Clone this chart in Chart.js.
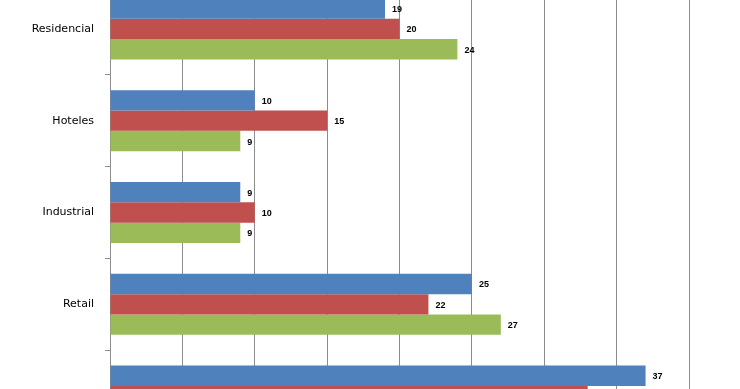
<!DOCTYPE html>
<html>
<head>
<meta charset="utf-8">
<script src="https://cdn.jsdelivr.net/npm/chart.js@4/dist/chart.umd.min.js"></script>
<style>
  html, body { margin: 0; padding: 0; background: #ffffff; overflow: hidden; width: 740px; height: 389px; }
  #wrap { position: absolute; left: 0; top: -17px; width: 740px; height: 459px; }
</style>
</head>
<body>
<div id="wrap"><canvas id="c" width="740" height="459"></canvas></div>
<script>
const categories = ['Residencial', 'Hoteles', 'Industrial', 'Retail', 'Oficinas'];
const seriesNames = ['Serie 1', 'Serie 2', 'Serie 3'];
const serie1 = [19, 10, 9, 25, 37];
const serie2 = [20, 15, 10, 22, 33];
const serie3 = [24, 9, 9, 27, null];
const xTicks = { min: 0, max: 40, step: 5 };

const valueLabels = {
  id: 'valueLabels',
  afterDatasetsDraw(chart) {
    const ctx = chart.ctx;
    ctx.save();
    ctx.fillStyle = '#000000';
    ctx.font = 'bold 9px "Liberation Sans", Arial, sans-serif';
    ctx.textAlign = 'left';
    ctx.textBaseline = 'middle';
    chart.data.datasets.forEach((ds, i) => {
      const meta = chart.getDatasetMeta(i);
      meta.data.forEach((el, j) => {
        const v = ds.data[j];
        if (v === null || v === undefined) return;
        ctx.fillText(String(v), el.x + 7, el.y + 1);
      });
    });
    ctx.restore();
  }
};

new Chart(document.getElementById('c'), {
  type: 'bar',
  data: {
    labels: categories,
    datasets: [
      { label: seriesNames[0], data: serie1, backgroundColor: '#4F81BD' },
      { label: seriesNames[1], data: serie2, backgroundColor: '#C0504D' },
      { label: seriesNames[2], data: serie3, backgroundColor: '#9BBB59' }
    ]
  },
  options: {
    indexAxis: 'y',
    responsive: false,
    animation: false,
    devicePixelRatio: 1,
    layout: { padding: { left: 0, right: 51, top: 0, bottom: 0 } },
    datasets: { bar: { categoryPercentage: 0.665, barPercentage: 1.0, borderWidth: 0 } },
    plugins: { legend: { display: false }, tooltip: { enabled: false } },
    scales: {
      x: {
        min: xTicks.min, max: xTicks.max,
        ticks: { display: false, stepSize: xTicks.step },
        grid: { color: '#8c8c8c', lineWidth: 1, drawTicks: false },
        border: { display: false },
        afterFit(s) { s.height = 0; s.paddingLeft = 0; s.paddingRight = 0; }
      },
      y: {
        grid: { drawOnChartArea: false, drawTicks: true, tickLength: 5, color: '#8c8c8c', offset: true },
        border: { display: true, color: '#8c8c8c', width: 1 },
        ticks: { color: '#000000', padding: 11, font: { family: '"DejaVu Sans", sans-serif', size: 11 } },
        afterFit(s) { s.width = 110; s.paddingTop = 0; s.paddingBottom = 0; }
      }
    }
  },
  plugins: [valueLabels]
});
</script>
</body>
</html>
